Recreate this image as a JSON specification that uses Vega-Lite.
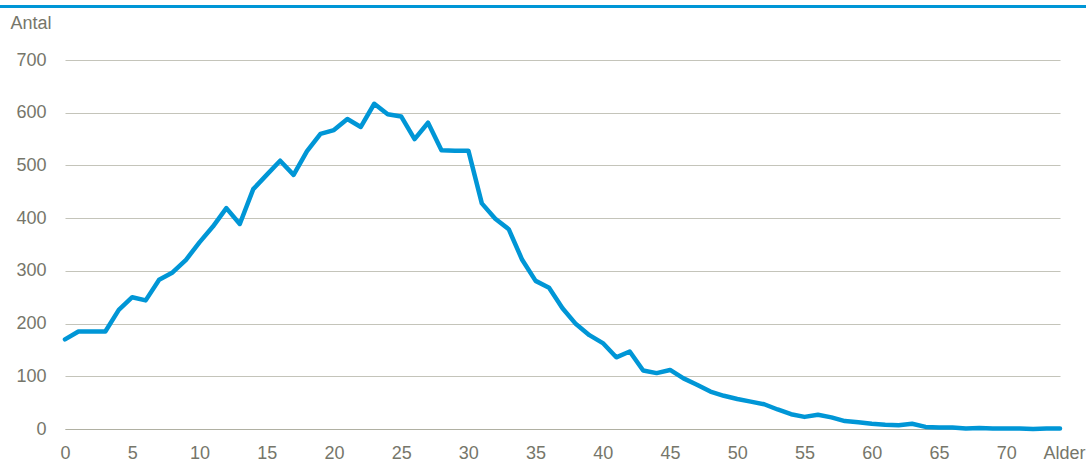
{
  "$schema": "https://vega.github.io/schema/vega-lite/v6.json",
  "autosize": {"type": "none"},
  "padding": {"left": 65, "top": 60, "right": 26, "bottom": 32},
  "width": 995,
  "height": 369,
  "background": "white",
  "config": {
    "view": {"stroke": null},
    "font": "Liberation Sans",
    "axis": {"labelFont": "Liberation Sans", "titleFont": "Liberation Sans"}
  },
  "data": {
    "values": [
      {"age": 0, "count": 170}, {"age": 1, "count": 185}, {"age": 2, "count": 185}, {"age": 3, "count": 185},
      {"age": 4, "count": 226}, {"age": 5, "count": 250}, {"age": 6, "count": 244}, {"age": 7, "count": 283},
      {"age": 8, "count": 297}, {"age": 9, "count": 321}, {"age": 10, "count": 354}, {"age": 11, "count": 384},
      {"age": 12, "count": 419}, {"age": 13, "count": 389}, {"age": 14, "count": 455}, {"age": 15, "count": 482},
      {"age": 16, "count": 509}, {"age": 17, "count": 482}, {"age": 18, "count": 527}, {"age": 19, "count": 560},
      {"age": 20, "count": 567}, {"age": 21, "count": 588}, {"age": 22, "count": 573}, {"age": 23, "count": 617},
      {"age": 24, "count": 597}, {"age": 25, "count": 593}, {"age": 26, "count": 550}, {"age": 27, "count": 581},
      {"age": 28, "count": 529}, {"age": 29, "count": 528}, {"age": 30, "count": 528}, {"age": 31, "count": 428},
      {"age": 32, "count": 399}, {"age": 33, "count": 379}, {"age": 34, "count": 321}, {"age": 35, "count": 281},
      {"age": 36, "count": 268}, {"age": 37, "count": 229}, {"age": 38, "count": 199}, {"age": 39, "count": 178},
      {"age": 40, "count": 163}, {"age": 41, "count": 136}, {"age": 42, "count": 147}, {"age": 43, "count": 111},
      {"age": 44, "count": 106}, {"age": 45, "count": 112}, {"age": 46, "count": 96}, {"age": 47, "count": 84},
      {"age": 48, "count": 71}, {"age": 49, "count": 63}, {"age": 50, "count": 57}, {"age": 51, "count": 52},
      {"age": 52, "count": 47}, {"age": 53, "count": 37}, {"age": 54, "count": 28}, {"age": 55, "count": 23},
      {"age": 56, "count": 27}, {"age": 57, "count": 22}, {"age": 58, "count": 15}, {"age": 59, "count": 13},
      {"age": 60, "count": 10}, {"age": 61, "count": 8}, {"age": 62, "count": 7}, {"age": 63, "count": 10},
      {"age": 64, "count": 4}, {"age": 65, "count": 3}, {"age": 66, "count": 3}, {"age": 67, "count": 1},
      {"age": 68, "count": 2}, {"age": 69, "count": 1}, {"age": 70, "count": 1}, {"age": 71, "count": 1},
      {"age": 72, "count": 0}, {"age": 73, "count": 1}, {"age": 74, "count": 1}
    ]
  },
  "layer": [
    {
      "mark": {"type": "line", "color": "#0096D6", "strokeWidth": 4.5, "strokeJoin": "round", "strokeCap": "round"},
      "encoding": {
        "x": {
          "field": "age", "type": "quantitative",
          "scale": {"domain": [0, 74], "nice": false, "zero": false},
          "axis": {
            "values": [0, 5, 10, 15, 20, 25, 30, 35, 40, 45, 50, 55, 60, 65, 70],
            "grid": false, "ticks": false,
            "domain": true, "domainColor": "#b0b0a2", "domainWidth": 1,
            "labelFontSize": 18, "labelColor": "#76766a", "labelPadding": 15,
            "labelFlush": false,
            "title": "Alder", "titleFontSize": 18, "titleFontWeight": "normal", "titleColor": "#76766a",
            "titleX": 999, "titleY": 15, "titleAlign": "center", "titleBaseline": "top"
          }
        },
        "y": {
          "field": "count", "type": "quantitative",
          "scale": {"domain": [0, 700], "nice": false},
          "axis": {
            "values": [0, 100, 200, 300, 400, 500, 600, 700],
            "grid": true, "gridColor": "#c4c4ba", "gridWidth": 1.2,
            "ticks": false, "domain": false,
            "labelFontSize": 18, "labelColor": "#76766a", "labelPadding": 19,
            "title": "Antal", "titleFontSize": 18, "titleFontWeight": "normal", "titleColor": "#76766a",
            "titleAngle": 0, "titleAlign": "left", "titleBaseline": "top",
            "titleX": -55, "titleY": -46
          }
        }
      }
    },
    {
      "mark": {"type": "rule", "color": "#0096D6", "strokeWidth": 2.5},
      "encoding": {
        "y": {"datum": 802},
        "x": {"datum": -4.84},
        "x2": {"datum": 76.0}
      }
    }
  ]
}
